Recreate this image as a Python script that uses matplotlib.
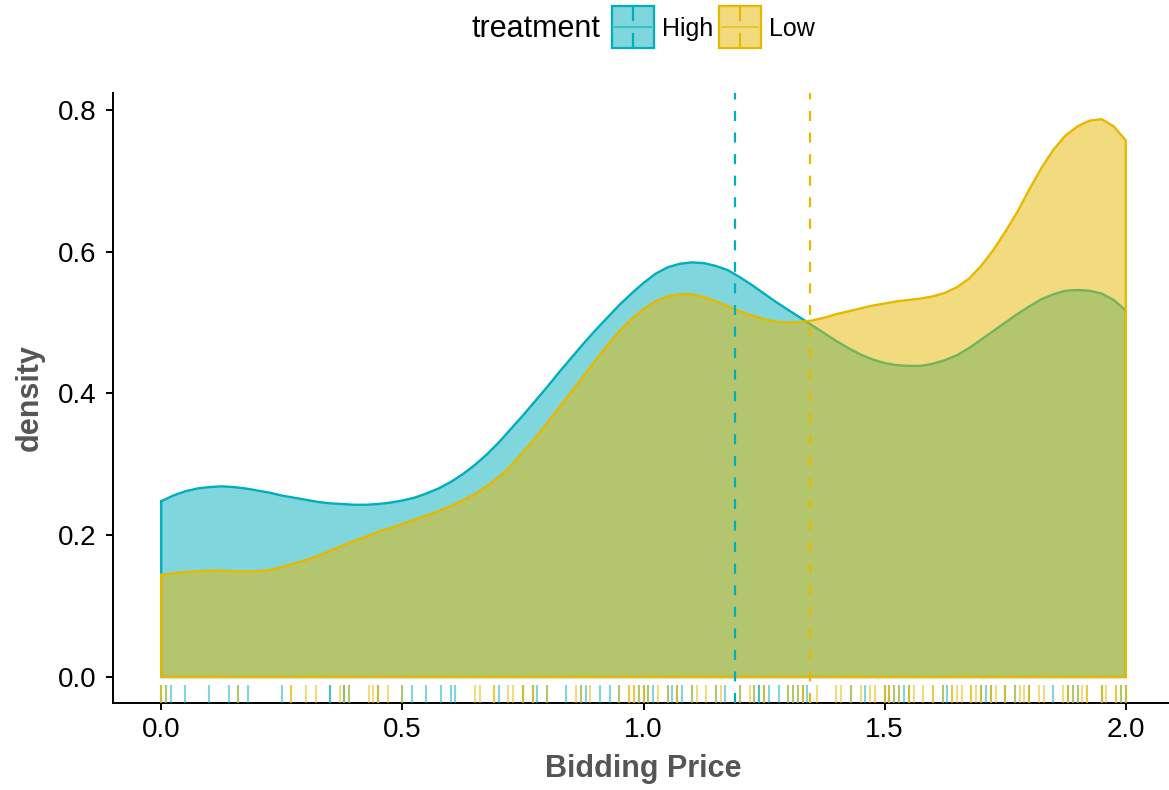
import numpy as np
import matplotlib
matplotlib.use("Agg")
import matplotlib.pyplot as plt
from matplotlib.patches import Rectangle
from matplotlib.lines import Line2D
import matplotlib.transforms as mtransforms

plt.rcParams['font.family'] = ['Liberation Sans', 'DejaVu Sans']

# density estimates read on a 0.025 grid
price_grid = np.round(np.arange(0, 2.0001, 0.025), 3)
density_high = [0.248, 0.256, 0.262, 0.266, 0.268, 0.269, 0.268, 0.266, 0.263, 0.260,
                0.256, 0.253, 0.250, 0.247, 0.245, 0.244, 0.243, 0.243, 0.244, 0.246,
                0.249, 0.253, 0.259, 0.266, 0.275, 0.286, 0.299, 0.314, 0.331, 0.350,
                0.369, 0.389, 0.409, 0.430, 0.450, 0.470, 0.489, 0.507, 0.525, 0.541,
                0.556, 0.569, 0.578, 0.583, 0.585, 0.584, 0.580, 0.574, 0.564, 0.553,
                0.541, 0.529, 0.518, 0.507, 0.496, 0.485, 0.474, 0.464, 0.455, 0.448,
                0.443, 0.440, 0.439, 0.439, 0.442, 0.447, 0.454, 0.464, 0.476, 0.488,
                0.500, 0.512, 0.523, 0.533, 0.540, 0.545, 0.546, 0.545, 0.541, 0.532,
                0.517]
density_low = [0.144, 0.146, 0.148, 0.149, 0.150, 0.150, 0.149, 0.149, 0.149, 0.151,
               0.155, 0.160, 0.165, 0.171, 0.178, 0.185, 0.192, 0.198, 0.205, 0.210,
               0.216, 0.222, 0.228, 0.234, 0.241, 0.249, 0.258, 0.269, 0.282, 0.298,
               0.317, 0.337, 0.358, 0.380, 0.402, 0.424, 0.446, 0.468, 0.488, 0.505,
               0.519, 0.530, 0.537, 0.540, 0.540, 0.536, 0.530, 0.523, 0.516, 0.510,
               0.505, 0.501, 0.500, 0.501, 0.503, 0.507, 0.512, 0.516, 0.520, 0.524,
               0.527, 0.530, 0.532, 0.534, 0.537, 0.542, 0.550, 0.562, 0.580, 0.602,
               0.628, 0.656, 0.688, 0.718, 0.744, 0.764, 0.777, 0.785, 0.787, 0.777,
               0.757]

# individual bids (rug)
high_bids = [0.00, 0.01, 0.02, 0.05, 0.10, 0.14, 0.16, 0.18, 0.25, 0.35, 0.35, 0.38,
             0.38, 0.39, 0.45, 0.50, 0.52, 0.55, 0.58, 0.60, 0.61, 0.70, 0.75, 0.77,
             0.78, 0.80, 0.84, 0.87, 0.88, 0.91, 0.93, 0.95, 0.99, 1.00, 1.01, 1.02,
             1.05, 1.06, 1.07, 1.08, 1.10, 1.15, 1.17, 1.20, 1.23, 1.24, 1.24, 1.25,
             1.26, 1.28, 1.30, 1.31, 1.32, 1.33, 1.34, 1.43, 1.46, 1.50, 1.51, 1.52,
             1.53, 1.54, 1.55, 1.62, 1.63, 1.70, 1.71, 1.72, 1.75, 1.77, 1.80, 1.85,
             1.88, 1.89, 1.90, 1.95, 1.99, 2.00]
low_bids = [0.00, 0.00, 0.01, 0.16, 0.27, 0.27, 0.30, 0.32, 0.37, 0.38, 0.39, 0.43,
            0.44, 0.45, 0.45, 0.47, 0.50, 0.65, 0.66, 0.69, 0.69, 0.72, 0.73, 0.75,
            0.75, 0.77, 0.77, 0.80, 0.86, 0.87, 0.89, 0.95, 0.97, 0.97, 0.98, 0.98,
            0.99, 1.00, 1.00, 1.01, 1.03, 1.05, 1.07, 1.07, 1.10, 1.11, 1.13, 1.15,
            1.16, 1.20, 1.22, 1.23, 1.25, 1.25, 1.30, 1.31, 1.32, 1.33, 1.33, 1.36,
            1.40, 1.41, 1.43, 1.45, 1.47, 1.48, 1.50, 1.50, 1.51, 1.51, 1.52, 1.53,
            1.55, 1.55, 1.56, 1.58, 1.60, 1.60, 1.62, 1.64, 1.64, 1.65, 1.66, 1.68,
            1.68, 1.69, 1.70, 1.70, 1.72, 1.72, 1.73, 1.75, 1.75, 1.77, 1.78, 1.79,
            1.80, 1.80, 1.82, 1.83, 1.87, 1.88, 1.88, 1.89, 1.90, 1.91, 1.92, 1.92,
            1.95, 1.95, 1.96, 1.98, 1.98, 1.99, 2.00, 2.00]

group_means = {"High": 1.19, "Low": 1.345}
groups = ["High", "Low"]
palette = {"High": "#00AFBB", "Low": "#E7B800"}
x_ticks = [0.0, 0.5, 1.0, 1.5, 2.0]
y_ticks = [0.0, 0.2, 0.4, 0.6, 0.8]

W, H = 1169, 790
fig = plt.figure(figsize=(W / 100, H / 100), dpi=100)
ax = fig.add_axes([113 / W, 1 - 703 / H, (1174 - 113) / W, (703 - 93) / H])

curves = {"High": density_high, "Low": density_low}
bids = {"High": high_bids, "Low": low_bids}

for g in groups:
    col = palette[g]
    xs = np.concatenate([price_grid, [price_grid[-1], price_grid[0], price_grid[0]]])
    ys = np.concatenate([curves[g], [0, 0, curves[g][0]]])
    ax.fill(xs, ys, facecolor=col, alpha=0.5, edgecolor="none", zorder=2)
    ax.plot(xs, ys, color=col, lw=1.7, solid_joinstyle="round", zorder=2)

# rug along the bottom of the panel
rug_tf = mtransforms.blended_transform_factory(ax.transData, ax.transAxes)
for g in groups:
    ax.vlines(bids[g], 0, 0.03, transform=rug_tf, colors=palette[g],
              alpha=0.5, lw=1.5, zorder=3)

# group means
for g in groups:
    ax.axvline(group_means[g], color=palette[g], lw=1.6, ls=(0, (4.5, 5.2)), zorder=4)

ax.set_xlim(-0.1, 2.1)
ax.set_ylim(-0.0367, 0.824)
ax.set_xticks(x_ticks)
ax.set_xticklabels([f"{v:.1f}" for v in x_ticks])
ax.set_yticks(y_ticks)
ax.set_yticklabels([f"{v:.1f}" for v in y_ticks])
ax.tick_params(axis="both", length=5, width=1.4, color="black", labelsize=20,
               labelcolor="black")
ax.tick_params(axis="x", pad=5)
ax.tick_params(axis="y", pad=7)
for side in ["top", "right"]:
    ax.spines[side].set_visible(False)
for side in ["left", "bottom"]:
    ax.spines[side].set_linewidth(1.4)
    ax.spines[side].set_color("black")

ax.set_xlabel("Bidding Price", fontsize=22, fontweight="bold", color="#555555", labelpad=8)
ax.set_ylabel("density", fontsize=22, fontweight="bold", color="#555555", labelpad=9)

# legend at the top, drawn in pixel coordinates
lg = fig.add_axes([0, 0, 1, 1], facecolor="none")
lg.set_xlim(0, W)
lg.set_ylim(H, 0)
lg.axis("off")
lg.text(472, 29, "treatment", fontsize=22, va="center", ha="left")
key_x = {"High": 612, "Low": 719}
for g in groups:
    col = palette[g]
    x0 = key_x[g]
    lg.add_patch(Rectangle((x0, 6), 42, 42, facecolor=col, alpha=0.5, edgecolor="none"))
    lg.add_patch(Rectangle((x0, 6), 42, 42, facecolor="none", edgecolor=col, lw=1.6))
    lg.add_line(Line2D([x0 + 3, x0 + 39], [27, 27], color=col, lw=1.4, alpha=0.6))
    lg.add_line(Line2D([x0 + 21, x0 + 21], [6, 20], color=col, lw=1.6))
    lg.add_line(Line2D([x0 + 21, x0 + 21], [34, 48], color=col, lw=1.6))
    lg.text(x0 + 50, 29, g, fontsize=18, va="center", ha="left")

fig.savefig("out.png", dpi=100, facecolor="white")
